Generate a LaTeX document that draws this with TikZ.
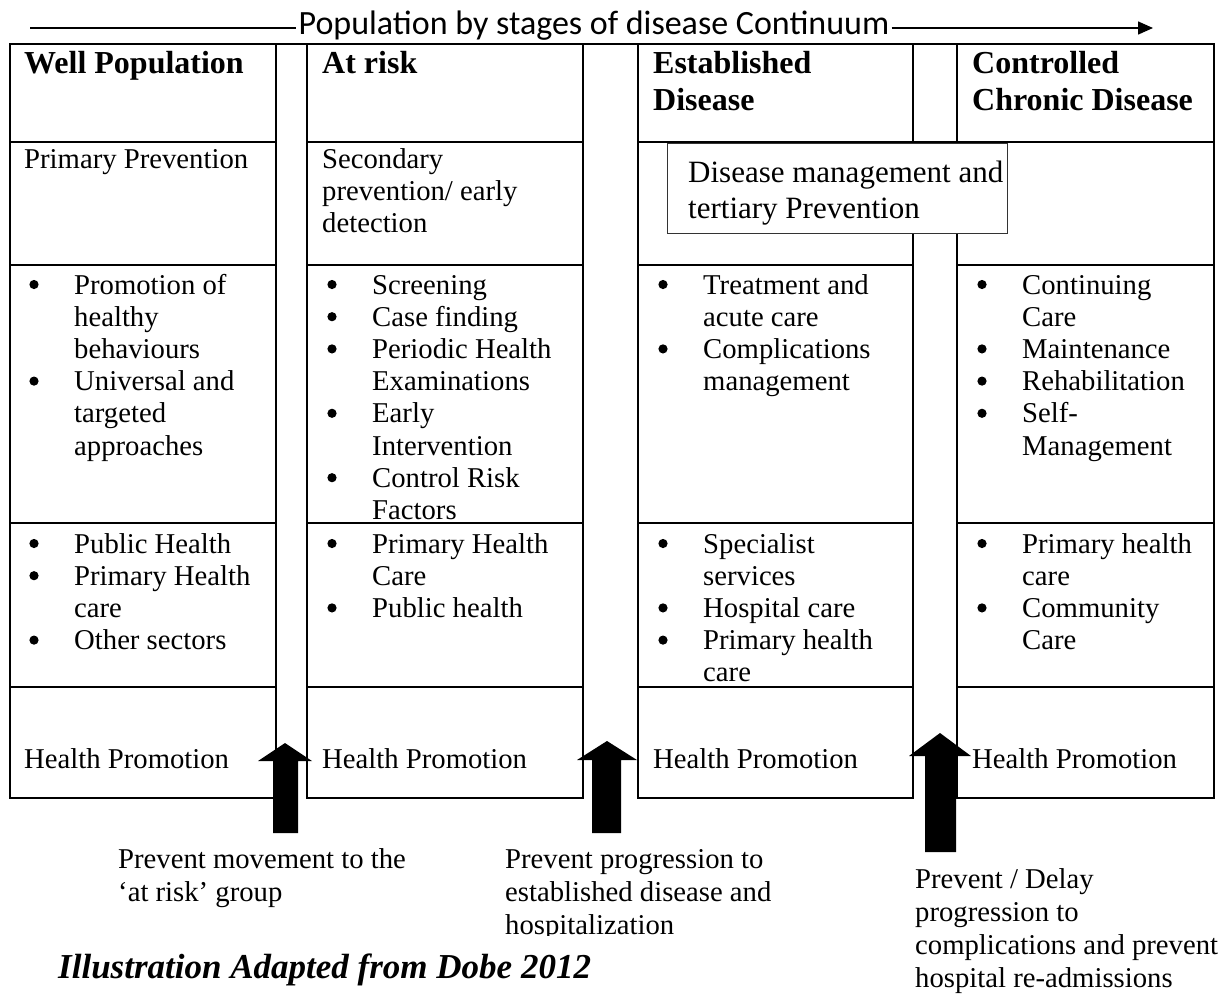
\documentclass[tikz,border=0pt]{standalone}
\usepackage{fontspec}
\setmainfont{Liberation Serif}
\newfontfamily\titlefamily{Carlito}
\usetikzlibrary{arrows.meta}

% font sizes (1pt = one unit of the drawing)
\newcommand\txtbody{\fontsize{28.7}{32.2}\selectfont}
\newcommand\txthead{\fontsize{32}{37}\selectfont\bfseries}
\newcommand\txtdm{\fontsize{31}{36}\selectfont}
\newcommand\txtcap{\fontsize{35}{40}\selectfont\bfseries\itshape}
\newcommand\lines[1]{\begin{tabular}[t]{@{}l@{}}#1\end{tabular}}

\begin{document}
\begin{tikzpicture}[x=1pt,y=-1pt,
  grid/.style={line width=2pt, line cap=rect},
  cell/.style={anchor=base west, inner sep=0pt, font=\txtbody},
  head/.style={anchor=base west, inner sep=0pt, font=\txthead},
  dot/.style={fill=black},
  blockarrow/.style={fill=black},
  axisline/.style={line width=1.5pt}]
\useasboundingbox (0,0) rectangle (1224,994);
\fill[white] (0,0) rectangle (1224,994);

% ---- title with the continuum line ----
\node[anchor=base, inner sep=2pt, font=\titlefamily\fontsize{34}{40}\selectfont]
  (title) at (594,34) {Population by stages of disease Continuum};
\coordinate (lineL) at (30,28);
\coordinate (lineR) at (1153,28);
\draw[axisline] (lineL) -- (lineL -| title.west);
\draw[axisline, -{Triangle[length=15pt, width=13pt]}] (lineR -| title.east) -- (lineR);

% ---- table frame ----
% top border
\draw[grid] (10,44) -- (1214,44);
% row borders (the narrow spacer columns stay open)
\draw[grid] (10,142) -- (276,142) (307,142) -- (583,142) (638,142) -- (1214,142);
\foreach \yy in {265,523,687,798}
  \draw[grid] (10,\yy) -- (276,\yy) (307,\yy) -- (583,\yy)
              (638,\yy) -- (913,\yy) (957,\yy) -- (1214,\yy);
% column borders
\foreach \xx in {10,276,307,583,638,913,957,1214}
  \draw[grid] (\xx,44) -- (\xx,798);

% ---- row 1: population groups ----
\node[head] (h1) at (24,73) {Well Population};
\node[head] (h2) at (322,73) {At risk};
\node[head] (h3) at (653,73) {\lines{Established\\Disease}};
\node[head] (h4) at (972,73) {\lines{Controlled\\Chronic Disease}};

% ---- row 2: prevention level ----
\node[cell] (p1) at (24,168) {Primary Prevention};
\node[cell] (p2) at (322,168) {\lines{Secondary\\prevention/ early\\detection}};
\node[draw=black!80, line width=1.2pt, fill=white, anchor=north west, inner sep=0pt,
  minimum width=340pt, minimum height=90pt] (dmbox) at (667,143) {};
\node[anchor=base west, inner sep=0pt, font=\txtdm] (dm) at (688,182)
  {\lines{Disease management and\\tertiary Prevention}};

% ---- row 3: interventions (text column, bullets drawn below) ----
\node[cell] (i1) at (74,294) {\lines{Promotion of\\healthy\\behaviours\\
  Universal and\\targeted\\approaches}};
\node[cell] (i2) at (372,294) {\lines{Screening\\Case finding\\Periodic Health\\
  Examinations\\Early\\Intervention\\Control Risk\\Factors}};
\node[cell] (i3) at (703,294) {\lines{Treatment and\\acute care\\Complications\\management}};
\node[cell] (i4) at (1022,294) {\lines{Continuing\\Care\\Maintenance\\Rehabilitation\\
  Self-\\Management}};

% ---- row 4: services ----
\node[cell] (s1) at (74,553) {\lines{Public Health\\Primary Health\\care\\Other sectors}};
\node[cell] (s2) at (372,553) {\lines{Primary Health\\Care\\Public health}};
\node[cell] (s3) at (703,553) {\lines{Specialist\\services\\Hospital care\\
  Primary health\\care}};
\node[cell] (s4) at (1022,553) {\lines{Primary health\\care\\Community\\Care}};

% ---- list bullets: column x, first baseline, line numbers ----
\foreach \bx/\by/\ks in {34/294/{0,3}, 332/294/{0,1,2,4,6}, 663/294/{0,2},
                         982/294/{0,2,3,4}, 34/553/{0,1,3}, 332/553/{0,2},
                         663/553/{0,2,3}, 982/553/{0,2}}
  \foreach \k in \ks
    \fill[dot] (\bx,\by+32.2*\k-9.5) circle (4.6pt);

% ---- row 5: health promotion ----
\node[cell] (hp1) at (24,768) {Health Promotion};
\node[cell] (hp2) at (322,768) {Health Promotion};
\node[cell] (hp3) at (653,768) {Health Promotion};
\node[cell] (hp4) at (972,768) {Health Promotion};

% ---- block arrows between the stages ----
\fill[blockarrow] (273,833) -- (273,761) -- (258,761) -- (285,743) -- (312,761)
  -- (298,761) -- (298,833) -- cycle;
\fill[blockarrow] (592,833) -- (592,760) -- (577,760) -- (607,741) -- (637,760)
  -- (621,760) -- (621,833) -- cycle;
\fill[blockarrow] (925,852) -- (925,756) -- (909,756) -- (940,733) -- (971,756)
  -- (956,756) -- (956,852) -- cycle;

% ---- notes under the arrows ----
\node[cell, font=\fontsize{28.7}{33}\selectfont] (n1) at (118,868)
  {\lines{Prevent movement to the\\‘at risk’ group}};
\begin{scope}
  % the text frame cuts the last line off at its foot
  \clip (480,840) rectangle (800,935);
  \node[cell, font=\fontsize{28.7}{33}\selectfont] (n2) at (505,868)
    {\lines{Prevent progression to\\established disease and\\hospitalization}};
\end{scope}
\node[cell, font=\fontsize{28.7}{33.3}\selectfont] (n3) at (915,888)
  {\lines{Prevent / Delay\\progression to\\complications and prevent\\hospital re-admissions}};

% ---- source ----
\node[anchor=base west, inner sep=0pt, font=\txtcap] (src) at (58,978)
  {Illustration Adapted from Dobe 2012};
\end{tikzpicture}
\end{document}
